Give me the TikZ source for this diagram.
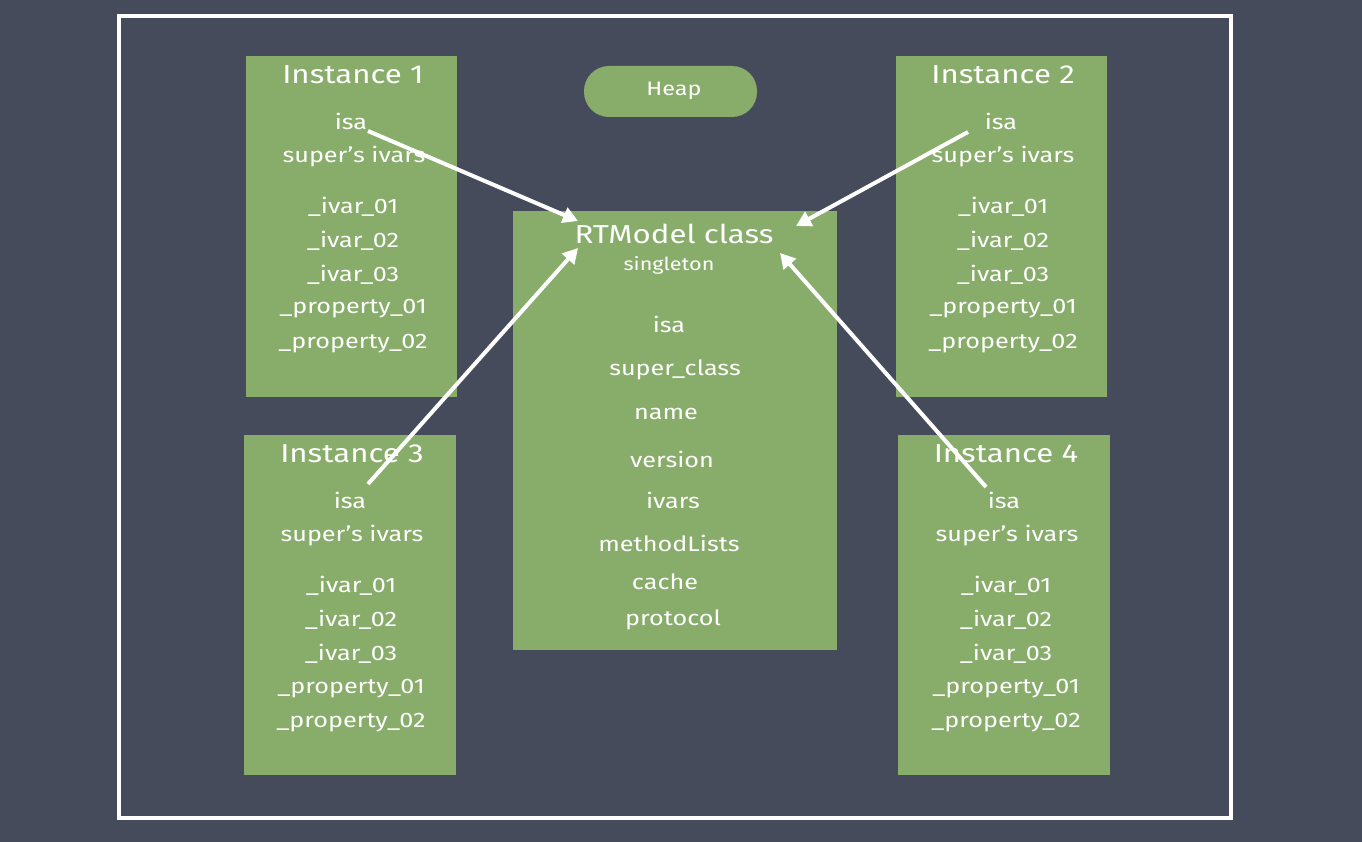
\documentclass[tikz,border=0pt]{standalone}
\usepackage{fontspec}
\setmainfont[FakeStretch=1.2]{Fira Sans}
\usetikzlibrary{arrows.meta}
\definecolor{board}{RGB}{70,75,91}
\definecolor{chalkgreen}{RGB}{136,172,106}
\tikzset{
  panel/.style={fill=chalkgreen, draw=none},
  item/.style={text=white, font=\fontsize{21}{23}\selectfont, inner sep=1pt},
  title/.style={text=white, font=\fontsize{26}{28}\selectfont, inner sep=1pt},
  small/.style={text=white, font=\fontsize{18}{20}\selectfont, inner sep=1pt},
  chalkarrow/.style={draw=white, line width=4pt, -{Triangle[length=15pt,width=16pt]}},
}
\begin{document}
\begin{tikzpicture}[x=1pt,y=-1pt]
\fill[board] (0,0) rectangle (1362,842);
\useasboundingbox (0,0) rectangle (1362,842);
\draw[white, line width=4pt] (119,16) rectangle (1231,818);
% panels
\node[panel, minimum width=211pt, minimum height=341pt, anchor=north west, inner sep=0] (i1) at (246,56) {};
\node[panel, minimum width=211pt, minimum height=341pt, anchor=north west, inner sep=0] (i2) at (896,56) {};
\node[panel, minimum width=212pt, minimum height=340pt, anchor=north west, inner sep=0] (i3) at (244,435) {};
\node[panel, minimum width=212pt, minimum height=340pt, anchor=north west, inner sep=0] (i4) at (898,435) {};
\node[panel, minimum width=324pt, minimum height=439pt, anchor=north west, inner sep=0] (cls) at (513,211) {};
\node[panel, rounded corners=25pt, minimum width=173pt, minimum height=51pt, inner sep=0] (heap) at (670.5,91.5) {};
\node[item, font=\fontsize{19.5}{21}\selectfont] (heapt) at (674,91) {Heap};
% instance 1
\node[title] (t1) at (353,75) {Instance 1};
\node[item] (isa1) at (351,121) {isa};
\node[item] (sup1) at (354,157) {super's ivars};
\node[item] (a1) at (353,207) {\_ivar\_01};
\node[item] (b1) at (353,241) {\_ivar\_02};
\node[item] (c1) at (353,275) {\_ivar\_03};
\node[item] (d1) at (353,309) {\_property\_01};
\node[item] (e1) at (353,344) {\_property\_02};
% instance 2
\node[title] (t2) at (1003,75) {Instance 2};
\node[item] (isa2) at (1001,121) {isa};
\node[item] (sup2) at (1003,157) {super's ivars};
\node[item] (a2) at (1003,207) {\_ivar\_01};
\node[item] (b2) at (1003,241) {\_ivar\_02};
\node[item] (c2) at (1003,275) {\_ivar\_03};
\node[item] (d2) at (1003,309) {\_property\_01};
\node[item] (e2) at (1003,344) {\_property\_02};
% instance 3
\node[title] (t3) at (352,454) {Instance 3};
\node[item] (isa3) at (350,500) {isa};
\node[item] (sup3) at (352,536) {super's ivars};
\node[item] (a3) at (351,586) {\_ivar\_01};
\node[item] (b3) at (351,620) {\_ivar\_02};
\node[item] (c3) at (351,654) {\_ivar\_03};
\node[item] (d3) at (351,689) {\_property\_01};
\node[item] (e3) at (351,723) {\_property\_02};
% instance 4
\node[title] (t4) at (1006,454) {Instance 4};
\node[item] (isa4) at (1004,500) {isa};
\node[item] (sup4) at (1007,536) {super's ivars};
\node[item] (a4) at (1006,586) {\_ivar\_01};
\node[item] (b4) at (1006,620) {\_ivar\_02};
\node[item] (c4) at (1006,654) {\_ivar\_03};
\node[item] (d4) at (1006,689) {\_property\_01};
\node[item] (e4) at (1006,723) {\_property\_02};
% class
\node[title] (ct) at (674,234) {RTModel class};
\node[small] (cs) at (669,265) {singleton};
\node[item] (cisa) at (669,324) {isa};
\node[item] (csup) at (675,370) {super\_class};
\node[item] (cname) at (666,414) {name};
\node[item] (cver) at (672,459) {version};
\node[item] (civ) at (673,500) {ivars};
\node[item] (cml) at (669,543) {methodLists};
\node[item] (cca) at (665,582) {cache};
\node[item] (cpr) at (673,620) {protocol};
% arrow ends
\coordinate (s1) at (368,131);
\coordinate (s2) at (968,132);
\coordinate (s3) at (368,484);
\coordinate (s4) at (986,487);
\coordinate (e1p) at (578,221);
\coordinate (e2p) at (796,226);
\coordinate (e3p) at (578,248);
\coordinate (e4p) at (780,253);
\draw[chalkarrow] (s1) -- (e1p);
\draw[chalkarrow] (s2) -- (e2p);
\draw[chalkarrow] (s3) -- (e3p);
\draw[chalkarrow] (s4) -- (e4p);
\end{tikzpicture}
\end{document}
